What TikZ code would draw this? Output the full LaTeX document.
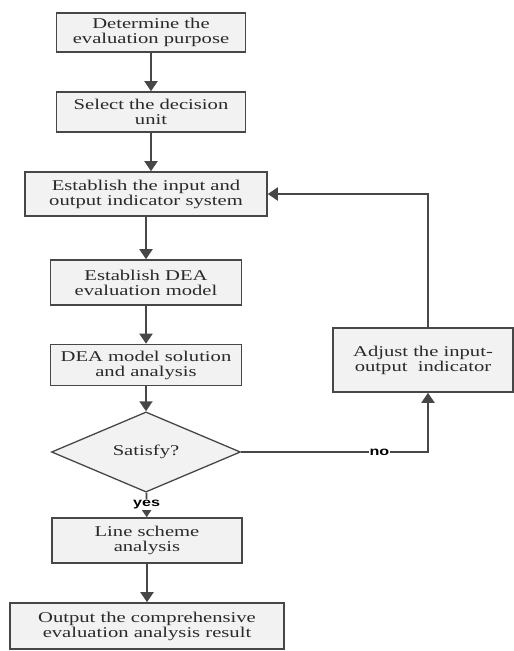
\documentclass[tikz,border=0pt]{standalone}
\usepackage{fontspec}
\setmainfont{Liberation Serif}[FakeStretch=1.38]
\newfontfamily\answerfont{Liberation Sans}[FakeStretch=1.35]
\usetikzlibrary{positioning,arrows.meta,shapes.geometric}
\definecolor{edgegray}{HTML}{474747}
\definecolor{boxfill}{HTML}{F2F2F2}
\definecolor{textgray}{HTML}{2A2A2A}
\tikzset{
  stepbox/.style={draw=edgegray, fill=boxfill, line width=1.6bp, align=center,
    text=textgray, font=\fontsize{15}{15}\selectfont, inner sep=1bp},
  decision/.style={diamond, draw=edgegray, fill=boxfill, line width=1.3bp,
    text=textgray, font=\fontsize{15}{15}\selectfont, inner sep=0pt},
  flow/.style={draw=edgegray, line width=1.9bp, -{Triangle[width=13bp,length=10bp]}},
  answer/.style={font=\answerfont\bfseries\fontsize{12}{12}\selectfont,
    text=black, fill=white, inner sep=1bp}
}

\begin{document}
\begin{tikzpicture}[x=1bp, y=-1bp]
    \useasboundingbox (0,0) rectangle (514,651);

    % main column
    \node[stepbox, minimum width=189bp, minimum height=39bp] (purpose) at (151,32.5)
      {Determine the\\evaluation purpose};
    \node[stepbox, minimum width=189bp, minimum height=40bp] (unit) at (151,112)
      {Select the decision\\unit};
    \node[stepbox, minimum width=242bp, minimum height=44bp] (system) at (146,194)
      {Establish the input and\\output indicator system};
    \node[stepbox, minimum width=191bp, minimum height=45bp] (model) at (146,282.5)
      {Establish DEA\\evaluation model};
    \node[stepbox, minimum width=191bp, minimum height=41bp] (solve) at (146,365)
      {DEA model solution\\and analysis};
    \node[decision, minimum width=189bp, minimum height=54bp] (satisfy) at (146,452)
      {Satisfy?};
    \node[stepbox, minimum width=190bp, minimum height=45bp] (scheme) at (147,540.5)
      {Line scheme\\analysis};
    \node[stepbox, minimum width=274bp, minimum height=46bp] (result) at (147,626)
      {Output the comprehensive\\evaluation analysis result};

    % feedback branch
    \node[stepbox, minimum width=180bp, minimum height=64bp] (adjust) at (423,360)
      {Adjust the input-\\output\ \ indicator};

    \draw[flow] (purpose) -- (unit);
    \draw[flow] (unit.south) -- (unit.south |- system.north);
    \draw[flow] (system.south) -- (system.south |- model.north);
    \draw[flow] (model) -- (solve);
    \draw[flow] (solve) -- (satisfy);
    \draw[flow] (satisfy) -- node[answer] {yes} (scheme);
    \draw[flow] (scheme) -- (result);
    \draw[flow] (satisfy.east) -| node[answer, pos=0.37] {no} ([xshift=5bp]adjust.south);
    \draw[flow] ([xshift=5bp]adjust.north) |- (system.east);
  \end{tikzpicture}
\end{document}
